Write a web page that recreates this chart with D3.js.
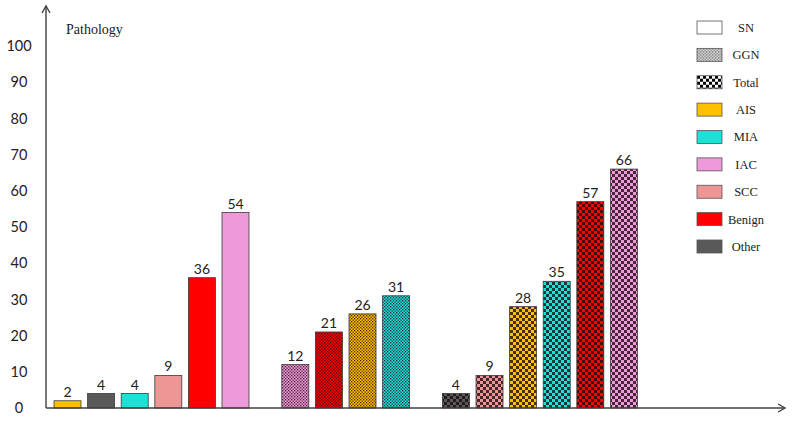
<!DOCTYPE html>
<html>
<head>
<meta charset="utf-8">
<script src="https://cdn.jsdelivr.net/npm/d3@7"></script>
<style>
  html, body { margin: 0; padding: 0; background: #fff; }
  svg { display: block; }
</style>
</head>
<body>
<svg id="chart" width="794" height="423"></svg>
<script>
// ---- data ----
const groups = ["SN", "GGN", "Total"];
const snCategories = ["AIS", "Other", "MIA", "SCC", "Benign", "IAC"];
const snValues = [2, 4, 4, 9, 36, 54];
const ggnCategories = ["IAC", "Benign", "AIS", "MIA"];
const ggnValues = [12, 21, 26, 31];
const totalCategories = ["Other", "SCC", "AIS", "MIA", "Benign", "IAC"];
const totalValues = [4, 9, 28, 35, 57, 66];
const yTicks = [0, 10, 20, 30, 40, 50, 60, 70, 80, 90, 100];
const legendLabels = ["SN", "GGN", "Total", "AIS", "MIA", "IAC", "SCC", "Benign", "Other"];
const yTitle = "Pathology";

// ---- styles ----
const catColor = {
  AIS: "#FFC000", MIA: "#1DE0D6", IAC: "#EE99D9",
  SCC: "#EE9696", Benign: "#FF0000", Other: "#595959"
};

const svg = d3.select("#chart");
const defs = svg.append("defs");

function patId(kind, cat) { return kind + "-" + cat; }
// GGN: speckled pattern
function makeSpeckle(id, base, dot, op) {
  const p = defs.append("pattern").attr("id", id).attr("patternUnits", "userSpaceOnUse")
    .attr("width", 3).attr("height", 3);
  p.append("rect").attr("width", 3).attr("height", 3).attr("fill", base);
  p.append("rect").attr("x", 0).attr("y", 0).attr("width", 1.3).attr("height", 1.3).attr("fill", dot).attr("opacity", op);
  p.append("rect").attr("x", 1.5).attr("y", 1.5).attr("width", 1.3).attr("height", 1.3).attr("fill", dot).attr("opacity", op);
}
// Total: checkerboard
function makeChecker(id, base, sq, op) {
  const s = 3;
  const p = defs.append("pattern").attr("id", id).attr("patternUnits", "userSpaceOnUse")
    .attr("width", 2 * s).attr("height", 2 * s);
  p.append("rect").attr("width", 2 * s).attr("height", 2 * s).attr("fill", base);
  p.append("rect").attr("x", 0).attr("y", 0).attr("width", s).attr("height", s).attr("fill", sq).attr("opacity", op);
  p.append("rect").attr("x", s).attr("y", s).attr("width", s).attr("height", s).attr("fill", sq).attr("opacity", op);
}
Object.keys(catColor).forEach(c => {
  makeSpeckle(patId("GGN", c), catColor[c], "#2a0a1a", 0.85);
  makeChecker(patId("Total", c), catColor[c], "#1a0a10", 0.8);
});
makeSpeckle("legend-GGN", "#e0e0e0", "#555", 0.9);
makeChecker("legend-Total", "#ffffff", "#000", 1);

function fillFor(group, cat) {
  if (group === "SN") return catColor[cat];
  return "url(#" + patId(group, cat) + ")";
}

// ---- scales ----
const y = d3.scaleLinear().domain([0, 100]).range([408, 46]);
const slot = d3.scaleLinear().domain([0, 1]).range([54, 87.6]); // slot index -> x
const barWidth = 27;
const groupGap = 0.78;

const groupData = [
  { g: "SN", cats: snCategories, vals: snValues },
  { g: "GGN", cats: ggnCategories, vals: ggnValues },
  { g: "Total", cats: totalCategories, vals: totalValues }
];
const bars = [];
let idx = 0;
groupData.forEach((gd, gi) => {
  gd.cats.forEach((c, i) => {
    bars.push({ group: gd.g, cat: c, value: gd.vals[i], pos: idx + gi * groupGap });
    idx++;
  });
});

// ---- bars ----
svg.append("g").selectAll("rect").data(bars).join("rect")
  .attr("x", d => slot(d.pos))
  .attr("y", d => y(d.value))
  .attr("width", barWidth)
  .attr("height", d => y(0) - y(d.value))
  .attr("fill", d => fillFor(d.group, d.cat))
  .attr("stroke", "#3a3a3a")
  .attr("stroke-width", 0.8);

svg.append("g").selectAll("text").data(bars).join("text")
  .attr("x", d => slot(d.pos) + barWidth / 2)
  .attr("y", d => y(d.value) - 4)
  .attr("text-anchor", "middle")
  .attr("font-family", "Lato, 'Open Sans', sans-serif")
  .attr("font-size", 14)
  .attr("fill", "#222")
  .text(d => d.value);

// ---- axes ----
const axisColor = "#404040";
const yAxis = d3.axisLeft(y).tickValues(yTicks).tickSize(0).tickPadding(0);
const yg = svg.append("g").attr("transform", "translate(19,0)").call(yAxis);
yg.select(".domain").remove();
yg.selectAll("text")
  .attr("text-anchor", "middle")
  .attr("x", 0)
  .attr("font-family", "Lato, 'Open Sans', sans-serif")
  .attr("font-size", 14.5)
  .attr("fill", "#222");

// axis lines with open arrowheads
const x0 = 46, yBase = 408;
svg.append("line").attr("x1", x0).attr("y1", yBase).attr("x2", x0).attr("y2", 6)
  .attr("stroke", axisColor).attr("stroke-width", 1.4);
svg.append("path").attr("d", `M${x0 - 4},${13} L${x0},${6} L${x0 + 4},${13}`)
  .attr("fill", "none").attr("stroke", axisColor).attr("stroke-width", 1.4);
svg.append("line").attr("x1", x0).attr("y1", yBase).attr("x2", 785).attr("y2", yBase)
  .attr("stroke", axisColor).attr("stroke-width", 1.4);
svg.append("path").attr("d", `M${778},${yBase - 4} L${785},${yBase} L${778},${yBase + 4}`)
  .attr("fill", "none").attr("stroke", axisColor).attr("stroke-width", 1.4);

svg.append("text").attr("x", 66).attr("y", 34)
  .attr("font-family", "'Liberation Serif', 'Times New Roman', serif")
  .attr("font-size", 14).attr("fill", "#222").text(yTitle);

// ---- legend ----
const legendY = d3.scalePoint().domain(legendLabels).range([21, 240]);
const legendFill = name => {
  if (name === "SN") return "#fff";
  if (name === "GGN") return "url(#legend-GGN)";
  if (name === "Total") return "url(#legend-Total)";
  return catColor[name];
};
const lg = svg.append("g").selectAll("g").data(legendLabels).join("g")
  .attr("transform", d => `translate(697,${legendY(d)})`);
lg.append("rect").attr("width", 25).attr("height", 13)
  .attr("fill", d => legendFill(d)).attr("stroke", "#555").attr("stroke-width", 0.8);
lg.append("text").attr("x", 49).attr("y", 6.5).attr("dy", "0.35em")
  .attr("text-anchor", "middle")
  .attr("font-family", "'Liberation Serif', 'Times New Roman', serif")
  .attr("font-size", 12.5).attr("fill", "#222")
  .text(d => d);
</script>
</body>
</html>
